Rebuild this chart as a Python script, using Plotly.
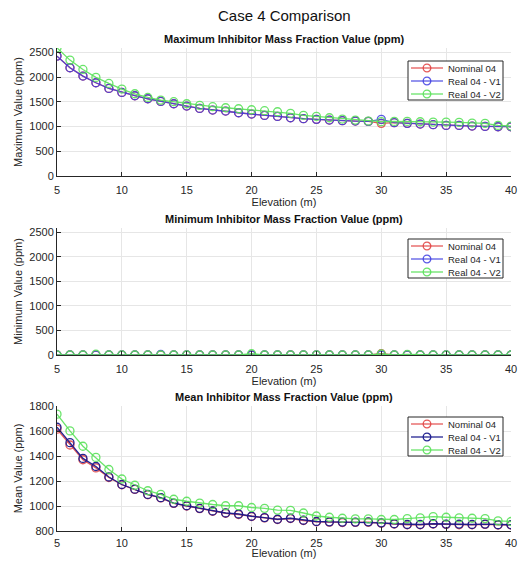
import plotly.graph_objects as go

elevation = list(range(5, 41))

max_nominal = [2426, 2190, 2022, 1887, 1772, 1691, 1624, 1563, 1509, 1462, 1415, 1368, 1334, 1314, 1280, 1253, 1226, 1206,
               1179, 1159, 1146, 1132, 1119, 1112, 1105, 1065, 1078, 1065, 1051, 1038, 1024, 1024, 1011, 1004, 997, 997]
max_v1 = [2426, 2190, 2022, 1887, 1772, 1691, 1624, 1563, 1509, 1462, 1415, 1368, 1334, 1314, 1280, 1253, 1226, 1206,
          1179, 1159, 1146, 1132, 1119, 1112, 1105, 1146, 1078, 1065, 1051, 1038, 1024, 1024, 1011, 1004, 997, 997]
max_v2 = [2594, 2345, 2156, 1995, 1873, 1759, 1664, 1590, 1536, 1503, 1462, 1429, 1402, 1381, 1361, 1341, 1321, 1300,
          1267, 1226, 1206, 1179, 1152, 1132, 1112, 1100, 1105, 1105, 1098, 1092, 1092, 1085, 1071, 1065, 1024, 1011]

min_nominal = [0, 0, 0, 0, 0, 0, 0, 0, 0, 0, 0, 0, 0, 0, 0, 0, 0, 0,
               0, 0, 0, 0, 0, 0, 0, 25, 0, 0, 0, 0, 0, 0, 0, 0, 0, 0]
min_v1 = [0, 0, 0, 0, 0, 0, 0, 0, 10, 0, 0, 0, 0, 0, 0, 0, 0, 0,
          0, 0, 0, 0, 0, 0, 0, 0, 0, 0, 0, 0, 0, 0, 0, 0, 0, 0]
min_v2 = [0, 0, 0, 15, 0, 0, 0, 0, 0, 0, 0, 0, 0, 0, 0, 25, 0, 0,
          0, 0, 0, 0, 0, 0, 0, 20, 0, 10, 0, 0, 0, 0, 0, 0, 0, 0]

mean_nominal = [1615, 1488, 1370, 1305, 1228, 1170, 1133, 1090, 1065, 1021, 1000, 979, 958, 942, 932, 916, 905, 892,
                900, 884, 874, 871, 868, 869, 870, 862, 856, 850, 850, 856, 853, 850, 850, 853, 848, 848]
mean_v1 = [1630, 1507, 1381, 1316, 1232, 1172, 1135, 1093, 1067, 1023, 1002, 981, 960, 944, 936, 918, 907, 894,
           902, 886, 876, 873, 871, 871, 873, 865, 858, 852, 852, 858, 855, 855, 852, 855, 850, 850]
mean_v2 = [1735, 1601, 1478, 1389, 1292, 1216, 1166, 1122, 1093, 1054, 1038, 1023, 1012, 1002, 1002, 988, 981, 967,
           965, 944, 920, 910, 902, 897, 897, 892, 892, 899, 905, 915, 910, 905, 902, 899, 881, 876]

series_names = ["Nominal 04", "Real 04 - V1", "Real 04 - V2"]
panel_titles = ["Maximum Inhibitor Mass Fraction Value (ppm)",
                "Minimum Inhibitor Mass Fraction Value (ppm)",
                "Mean Inhibitor Mass Fraction Value (ppm)"]
y_titles = ["Maximum Value (ppm)", "Minimum Value (ppm)", "Mean Value (ppm)"]

panels = [
    (max_nominal, max_v1, max_v2),
    (min_nominal, min_v1, min_v2),
    (mean_nominal, mean_v1, mean_v2),
]
colors_by_panel = [
    ["rgba(225,60,60,0.85)", "rgba(60,60,225,0.85)", "rgba(90,225,90,0.9)"],
    ["rgba(225,60,60,0.85)", "rgba(60,60,225,0.85)", "rgba(90,225,90,0.9)"],
    ["rgba(225,60,60,0.85)", "rgba(25,25,140,0.95)", "rgba(90,225,90,0.9)"],
]

# page has an 8px body margin: figure sized to fit inside the 526x567 window
OFF = 8
W, H = 526 - 2 * OFF, 567 - 2 * OFF
x0, x1 = 57, 511
panel_px = [(48, 176), (228, 355), (406, 531)]
yranges = [[0, 2590], [0, 2590], [800, 1800]]
ytickvals = [[0, 500, 1000, 1500, 2000, 2500], [0, 500, 1000, 1500, 2000, 2500],
             [800, 1000, 1200, 1400, 1600, 1800]]
tick_standoff = [4, 4, 2]
title_standoff = [3, 3, 0]
legend_top = [61, 239, 417]
LX0, LX1 = 408, 503


def px(x):
    return (x - OFF) / W


def py(y):
    return 1 - (y - OFF) / H


font = "Liberation Sans, Arial, sans-serif"
fig = go.Figure()
layout = dict(
    width=W, height=H,
    margin=dict(l=0, r=0, t=0, b=0, autoexpand=False),
    paper_bgcolor="white", plot_bgcolor="white",
    font=dict(family=font, color="#262626", size=11),
    showlegend=False,
    annotations=[], shapes=[],
)

for i, (vals, cols) in enumerate(zip(panels, colors_by_panel)):
    n = "" if i == 0 else str(i + 1)
    for name, v, c in zip(series_names, vals, cols):
        fig.add_trace(go.Scatter(
            x=elevation, y=v, name=name, mode="lines+markers",
            xaxis="x" + n, yaxis="y" + n,
            line=dict(color=c, width=1.3),
            marker=dict(symbol="circle-open", size=8, color=c, line=dict(width=1.3, color=c)),
        ))
    top, bot = panel_px[i]
    layout["xaxis" + n] = dict(
        domain=[px(x0), px(x1)], anchor="y" + n, range=[5, 40], automargin=False,
        tickvals=[5, 10, 15, 20, 25, 30, 35, 40],
        showgrid=True, gridcolor="#e6e6e6", gridwidth=1,
        showline=True, linecolor="#262626", linewidth=1,
        ticks="inside", ticklen=4, tickcolor="#262626",
        ticklabelstandoff=tick_standoff[i],
        tickfont=dict(size=11, color="#262626"),
        title=dict(text="Elevation (m)", font=dict(size=11, color="#262626"), standoff=title_standoff[i]),
        zeroline=False,
    )
    layout["yaxis" + n] = dict(
        domain=[py(bot), py(top)], anchor="x" + n, range=yranges[i], tickvals=ytickvals[i],
        automargin=False,
        showgrid=True, gridcolor="#e6e6e6", gridwidth=1,
        showline=True, linecolor="#262626", linewidth=1,
        ticks="inside", ticklen=4, tickcolor="#262626",
        tickfont=dict(size=11, color="#262626"),
        title=dict(text=y_titles[i], font=dict(size=11, color="#262626"), standoff=4),
        zeroline=False,
    )
    layout["annotations"].append(dict(
        text="<b>" + panel_titles[i] + "</b>", x=px((x0 + x1) / 2), y=py(top - 9),
        xref="paper", yref="paper", showarrow=False, xanchor="center", yanchor="middle",
        font=dict(size=11, color="#111111"),
    ))
    # custom compact legend (MATLAB style)
    lt = legend_top[i]
    layout["shapes"].append(dict(
        type="rect", xref="paper", yref="paper",
        x0=px(LX0), x1=px(LX1), y0=py(lt + 39), y1=py(lt),
        line=dict(color="#262626", width=1), fillcolor="white", layer="above",
    ))
    for k, (name, c) in enumerate(zip(series_names, cols)):
        ey = lt + 7 + k * 13
        layout["shapes"].append(dict(
            type="line", xref="paper", yref="paper",
            x0=px(LX0 + 3), x1=px(LX0 + 35), y0=py(ey), y1=py(ey),
            line=dict(color=c, width=1.3), layer="above",
        ))
        cx = LX0 + 19
        layout["shapes"].append(dict(
            type="circle", xref="paper", yref="paper",
            x0=px(cx - 3.8), x1=px(cx + 3.8), y0=py(ey + 3.8), y1=py(ey - 3.8),
            line=dict(color=c, width=1.3), fillcolor="rgba(0,0,0,0)", layer="above",
        ))
        layout["annotations"].append(dict(
            text=name, x=px(LX0 + 38), y=py(ey), xref="paper", yref="paper", showarrow=False,
            xanchor="left", yanchor="middle", font=dict(size=9.5, color="#262626"),
        ))

layout["annotations"].append(dict(
    text="Case 4 Comparison", x=px((x0 + x1) / 2), y=py(16),
    xref="paper", yref="paper", showarrow=False, xanchor="center", yanchor="middle",
    font=dict(size=15, color="#111111"),
))
fig.update_layout(**layout)
fig.write_html("out.html")
